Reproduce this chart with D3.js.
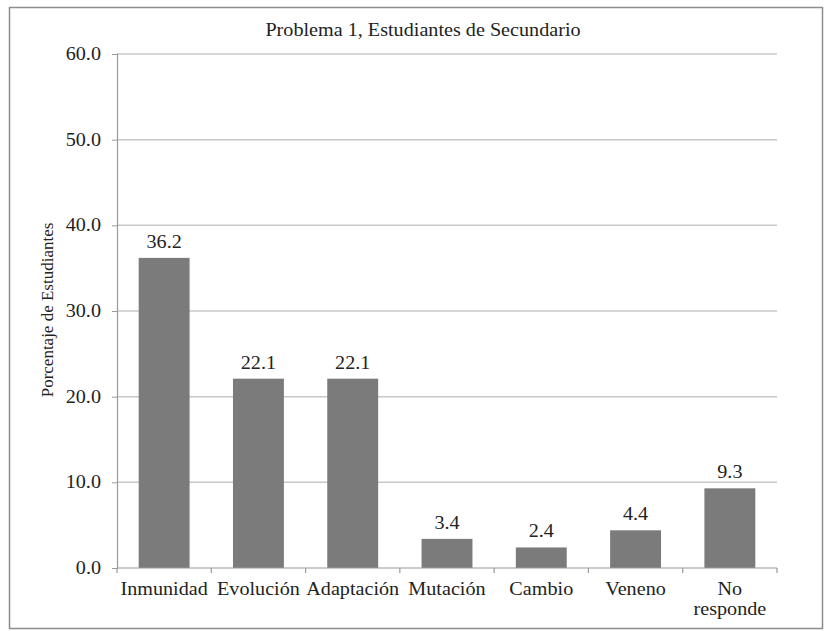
<!DOCTYPE html>
<html><head><meta charset="utf-8">
<script src="https://cdn.jsdelivr.net/npm/d3@7"></script>
<style>body{margin:0;background:#fff} text{font-family:"Liberation Serif","DejaVu Serif",serif;fill:#222}</style>
</head><body>
<svg id="c" width="827" height="631"></svg>
<script>
const categories = ["Inmunidad","Evolución","Adaptación","Mutación","Cambio","Veneno","No responde"];
const values = [36.2,22.1,22.1,3.4,2.4,4.4,9.3];
const yTicks = [0,10,20,30,40,50,60];
const title = "Problema 1, Estudiantes de Secundario";
const yLabel = "Porcentaje de Estudiantes";

const svg = d3.select("#c");
const m = {l:117, r:777, t:54, b:568};
const SX = 1.12;
svg.append("rect").attr("x",9.5).attr("y",7.5).attr("width",813).attr("height",621)
  .attr("fill","#fff").attr("stroke","#8c8c8c").attr("stroke-width",1.5);

const x = d3.scaleBand().domain(categories).range([m.l,m.r]).paddingInner(0.46).paddingOuter(0.23);
const y = d3.scaleLinear().domain([0,60]).range([m.b,m.t]);

function label(g, tx, ty, anchor, size, txt){
  return g.append("text").attr("transform",`translate(${tx},${ty}) scale(${SX},1)`)
    .attr("text-anchor",anchor).attr("font-size",size).text(txt);
}

svg.append("g").selectAll("line").data(yTicks.filter(d=>d>0)).join("line")
  .attr("x1",m.l).attr("x2",m.r).attr("y1",d=>y(d)).attr("y2",d=>y(d))
  .attr("stroke","#c8c8c8").attr("stroke-width",1.5);

const ya = svg.append("g").attr("transform",`translate(${m.l},0)`)
  .call(d3.axisLeft(y).tickValues(yTicks).tickFormat("").tickSize(5));
ya.select(".domain").attr("stroke","#9a9a9a").attr("stroke-width",1.2);
ya.selectAll(".tick line").attr("stroke","#9a9a9a");
const yl = svg.append("g");
yTicks.forEach(t=>label(yl, 101, y(t)+6, "end", 18, d3.format(".1f")(t)));

svg.append("g").selectAll("rect").data(values).join("rect")
  .attr("x",(d,i)=>x(categories[i])).attr("width",x.bandwidth())
  .attr("y",d=>y(d)).attr("height",d=>y(0)-y(d)).attr("fill","#7b7b7b");

svg.append("line").attr("x1",m.l).attr("x2",m.r).attr("y1",y(0)).attr("y2",y(0))
  .attr("stroke","#9a9a9a").attr("stroke-width",1.2);
svg.append("g").selectAll("line").data(d3.range(categories.length+1)).join("line")
  .attr("x1",i=>m.l+i*(m.r-m.l)/categories.length).attr("x2",i=>m.l+i*(m.r-m.l)/categories.length)
  .attr("y1",y(0)).attr("y2",y(0)+5).attr("stroke","#9a9a9a").attr("stroke-width",1.2);

const vl = svg.append("g");
values.forEach((v,i)=>label(vl, x(categories[i])+x.bandwidth()/2, y(v)-10, "middle", 18, v.toFixed(1)));

const xl = svg.append("g");
categories.forEach(c=>{
  const cx = x(c)+x.bandwidth()/2;
  if(c==="No responde"){
    label(xl, cx, 595, "middle", 18, "No");
    label(xl, cx, 615, "middle", 18, "responde");
  } else label(xl, cx, 595, "middle", 18, c);
});

label(svg, 423, 36, "middle", 18, title);

svg.append("text").attr("transform",`translate(53,${310}) rotate(-90)`)
  .attr("text-anchor","middle").attr("font-size",17)
  .text(yLabel);
</script>
</body></html>
